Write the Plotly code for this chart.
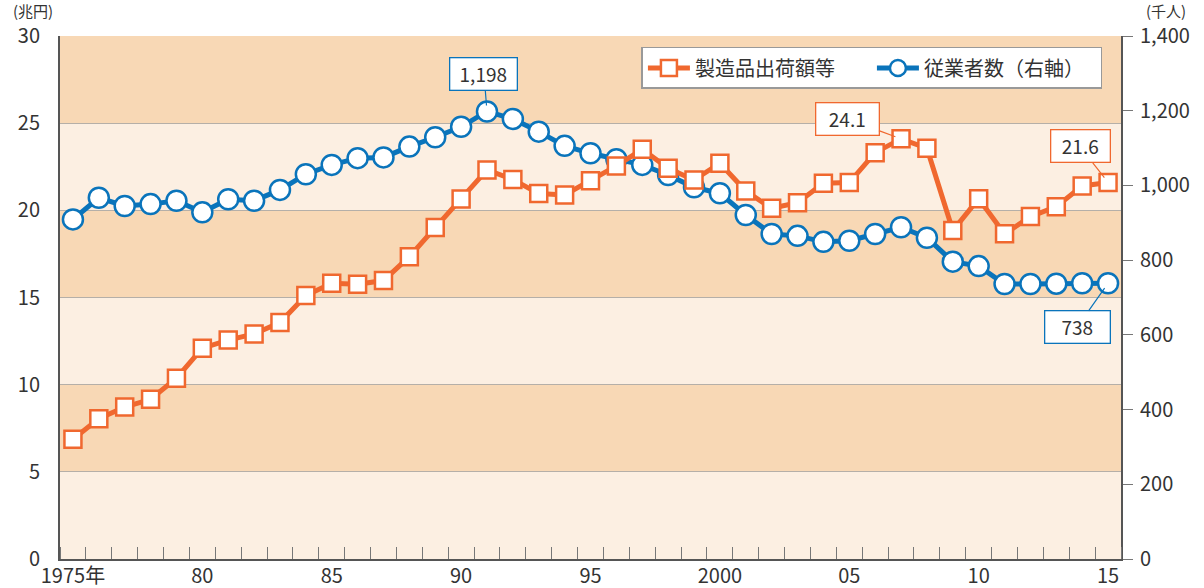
import plotly.graph_objects as go

years = list(range(1975, 2016))

# 製造品出荷額等（兆円）
shipments = [6.87, 8.05, 8.72, 9.16, 10.37, 12.09, 12.56, 12.91, 13.56, 15.11,
             15.82, 15.76, 15.97, 17.34, 19.01, 20.65, 22.32, 21.77, 20.96, 20.88,
             21.69, 22.55, 23.50, 22.41, 21.74, 22.70, 21.11, 20.12, 20.44, 21.55,
             21.59, 23.31, 24.1, 23.56, 18.84, 20.67, 18.65, 19.64, 20.21, 21.40,
             21.6]

# 従業者数（千人）
workers = [909, 967, 945, 950, 959, 928, 963, 959, 988, 1030,
           1055, 1073, 1075, 1104, 1129, 1157, 1198, 1178, 1144, 1106,
           1086, 1070, 1055, 1028, 995, 979, 921, 870, 865, 849,
           852, 870, 888, 860, 796, 784, 736, 736, 737, 738,
           738]

tick_years = [1975, 1980, 1985, 1990, 1995, 2000, 2005, 2010, 2015]
tick_text = ["1975年", "80", "85", "90", "95", "2000", "05", "10", "15"]

band_edges = [0, 5, 10, 15, 20, 25, 30]

ORANGE = "#F0682F"
BLUE = "#0A74BB"
TXT = "#333333"
FONT = "Noto Sans CJK JP"

fig = go.Figure()

fig.add_trace(go.Scatter(
    x=years, y=workers, name="従業者数（右軸）", yaxis="y",
    mode="lines+markers", legendrank=2,
    line=dict(color=BLUE, width=5),
    marker=dict(symbol="circle", size=20, color="white",
                line=dict(color=BLUE, width=2.5)),
))
fig.add_trace(go.Scatter(
    x=years, y=shipments, name="製造品出荷額等", yaxis="y2",
    mode="lines+markers", legendrank=1,
    line=dict(color=ORANGE, width=5),
    marker=dict(symbol="square", size=17, color="white",
                line=dict(color=ORANGE, width=2.5)),
))

# alternating background bands
shapes = []
for i in range(len(band_edges) - 1):
    shapes.append(dict(
        type="rect", xref="paper", yref="y2", layer="below",
        x0=0, x1=1, y0=band_edges[i], y1=band_edges[i + 1],
        fillcolor="#FCEFE2" if i % 2 == 0 else "#F8D8B5",
        line=dict(width=0),
    ))

ann_font = dict(family=FONT, size=19, color=TXT)
annotations = [
    dict(x=1991, y=1198, xref="x", yref="y", text="1,198", ax=-3, ay=-37,
         width=62, arrowcolor=BLUE, bordercolor=BLUE),
    dict(x=2007, y=24.1, xref="x", yref="y2", text="24.1", ax=-54, ay=-20,
         width=58, arrowcolor=ORANGE, bordercolor=ORANGE),
    dict(x=2015, y=21.6, xref="x", yref="y2", text="21.6", ax=-28, ay=-36,
         width=54, arrowcolor=ORANGE, bordercolor=ORANGE),
    dict(x=2015, y=738, xref="x", yref="y", text="738", ax=-31, ay=44,
         width=60, arrowcolor=BLUE, bordercolor=BLUE),
]
for a in annotations:
    a.update(showarrow=True, arrowhead=0, arrowwidth=1.2, standoff=6,
             bgcolor="white", borderwidth=1.3, borderpad=2, font=ann_font)

annotations.append(dict(x=0, y=1, xref="paper", yref="paper", text="(兆円)",
                        xanchor="center", yanchor="bottom", xshift=-27, yshift=13,
                        showarrow=False, font=dict(family=FONT, size=15, color=TXT)))
annotations.append(dict(x=1, y=1, xref="paper", yref="paper", text="(千人)",
                        xanchor="center", yanchor="bottom", xshift=45, yshift=13,
                        showarrow=False, font=dict(family=FONT, size=15, color=TXT)))

fig.update_layout(
    width=1204, height=588,
    margin=dict(l=60, r=83, t=36, b=29, autoexpand=False),
    paper_bgcolor="white", plot_bgcolor="#FCEFE2",
    font=dict(family=FONT, size=20, color=TXT),
    shapes=shapes, annotations=annotations,
    showlegend=True,
    legend=dict(x=0.548, y=0.979, xanchor="left", yanchor="top",
                orientation="h", bgcolor="white", bordercolor="#999999",
                borderwidth=1.5, font=dict(family=FONT, size=20, color=TXT),
                itemwidth=42, entrywidth=172),
    xaxis=dict(
        range=[1974.5, 2015.5], tickvals=tick_years, ticktext=tick_text,
        ticks="", showgrid=False, zeroline=False, automargin=False,
        showline=True, linecolor="#555555", linewidth=2,
        tickfont=dict(size=20), ticklabelstandoff=-2,
        minor=dict(tick0=1974.5, dtick=1, ticks="inside", ticklen=12,
                   tickcolor="#777777", tickwidth=1, showgrid=False),
    ),
    yaxis=dict(
        side="right", range=[0, 1400], dtick=200, tickformat=",",
        showgrid=False, zeroline=False, automargin=False,
        showline=True, linecolor="#555555", linewidth=2,
        ticks="outside", ticklen=10, tickcolor="#777777",
        tickfont=dict(size=20), ticklabelstandoff=3,
    ),
    yaxis2=dict(
        side="left", overlaying="y", range=[0, 30], dtick=5,
        showgrid=True, gridcolor="#B5AFA8", gridwidth=1, zeroline=False,
        automargin=False,
        showline=True, linecolor="#555555", linewidth=2,
        ticks="", tickfont=dict(size=20), ticklabelstandoff=14,
    ),
)

# drop the page's default body margin so the figure sits at the window corner
fig.write_html("out.html", config={"displayModeBar": False},
               post_script="document.body.style.margin='0';document.body.style.overflow='hidden';")
